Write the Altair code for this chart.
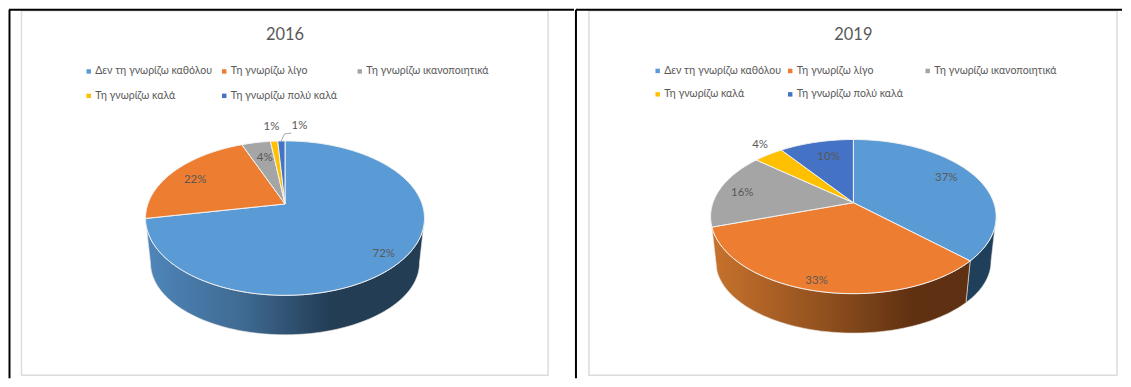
import math
import altair as alt
import pandas as pd

CATEGORIES = ["Δεν τη γνωρίζω καθόλου", "Τη γνωρίζω λίγο", "Τη γνωρίζω ικανοποιητικά",
              "Τη γνωρίζω καλά", "Τη γνωρίζω πολύ καλά"]
VALUES_2016 = [72, 22, 4, 1, 1]
VALUES_2019 = [37, 33, 16, 4, 10]
COLORS = ["#5b9bd5", "#ed7d31", "#a5a5a5", "#ffc000", "#4472c4"]

FONT = "Lato"
TEXT = "#595959"


def gradient(stops):
    return alt.LinearGradient(
        gradient="linear", x1=0, x2=1, y1=0, y2=0,
        stops=[alt.GradientStop(offset=o, color=c) for o, c in stops])


def panel(year, values, pano, frame, geo, label_pos, side_fill, legend_cols, legend_rows, leader=False):
    x0, x1 = pano
    sx = alt.Scale(domain=[x0, x1], nice=False, zero=False)
    sy = alt.Scale(domain=[8, 379], reverse=True, nice=False, zero=False)
    X = alt.X("x:Q", scale=sx, axis=None)
    Y = alt.Y("y:Q", scale=sy, axis=None)
    cx, apex_y, top_y, bot_y, rx, depth, shrink_x, shrink_y = geo

    # projective mapping of the pie disc, so the apex sits above the ellipse centre
    c = (top_y + bot_y - 2 * apex_y) / (bot_y - top_y)
    a = top_y * (1 + c) - apex_y
    d = rx * math.sqrt(1 - c * c)
    ell_cy = (top_y + bot_y) / 2

    def project(deg, r=1.0):
        t = math.radians(deg)
        u, v = r * math.sin(t), r * math.cos(t)
        w = 1 + c * v
        return cx + d * u / w, (apex_y + a * v) / w

    def lower(px, py):
        return cx + (px - cx) * shrink_x, ell_cy + depth + (py - ell_cy) * shrink_y

    def arc(a0, a1):
        n = max(2, int(abs(a1 - a0) / 1.5))
        return [a0 + (a1 - a0) * i / n for i in range(n + 1)]

    total = sum(values)
    starts, acc = [], 0
    for v in values:
        starts.append(acc * 360 / total)
        acc += v
    ends = starts[1:] + [360]

    layers = []
    # frame of the chart
    layers.append(alt.Chart(pd.DataFrame([{"x": frame[0], "x2": frame[1], "y": frame[2], "y2": frame[3]}]))
                  .mark_rect(fill="#ffffff", stroke="#dcdcdc", strokeWidth=1.5)
                  .encode(x=X, x2="x2:Q", y=Y, y2="y2:Q"))
    # sides
    tan_a = math.degrees(math.acos(-c))
    tan_b = 360 - tan_a
    for i in range(len(values)):
        a0, a1 = max(starts[i], tan_a), min(ends[i], tan_b)
        if a1 - a0 < 10:
            continue
        pts = [project(t) for t in arc(a0, a1)]
        pts = pts + [lower(*p) for p in reversed(pts)]
        pts.append(pts[0])
        df = pd.DataFrame([{"x": p[0], "y": p[1], "i": k} for k, p in enumerate(pts)])
        layers.append(alt.Chart(df).mark_line(fill=side_fill[i], strokeWidth=0.6, stroke="#e9e4df")
                      .encode(x=X, y=Y, order="i:Q"))
    # top faces
    for i in range(len(values)):
        pts = [(cx, apex_y)] + [project(t) for t in arc(starts[i], ends[i])] + [(cx, apex_y)]
        df = pd.DataFrame([{"x": p[0], "y": p[1], "i": k} for k, p in enumerate(pts)])
        layers.append(alt.Chart(df).mark_line(fill=COLORS[i], stroke="#f2f2f2", strokeWidth=1)
                      .encode(x=X, y=Y, order="i:Q"))
    # leader line of the last slice
    if leader:
        mid = (starts[4] + ends[4]) / 2
        ax, ay = project(mid, 1.0)
        bx, by = project(mid + 1.5, 1.13)
        df = pd.DataFrame([{"x": ax, "y": ay, "i": 0}, {"x": bx, "y": by, "i": 1},
                           {"x": bx + 7, "y": by - 1, "i": 2}])
        layers.append(alt.Chart(df).mark_line(stroke="#a6a6a6", strokeWidth=1)
                      .encode(x=X, y=Y, order="i:Q"))
    # percent labels
    rows = []
    for i, v in enumerate(values):
        r, off, yoff = label_pos[i]
        lx, ly = project((starts[i] + ends[i]) / 2, r)
        rows.append({"x": lx + off, "y": ly + yoff, "t": f"{v}%"})
    layers.append(alt.Chart(pd.DataFrame(rows))
                  .mark_text(font=FONT, fontSize=11.5, color=TEXT, align="center", baseline="middle")
                  .encode(x=X, y=Y, text="t:N"))
    # title
    layers.append(alt.Chart(pd.DataFrame([{"x": cx, "y": 34.5, "t": year}]))
                  .mark_text(font=FONT, fontSize=16.5, color=TEXT, align="center", baseline="middle")
                  .encode(x=X, y=Y, text="t:N"))
    # legend
    for i, cat in enumerate(CATEGORIES):
        mx = legend_cols[i % 3]
        my = legend_rows[i // 3]
        layers.append(alt.Chart(pd.DataFrame([{"x": mx, "y": my, "cat": cat}]))
                      .mark_square(size=20, color=COLORS[i], opacity=1)
                      .encode(x=X, y=Y))
        layers.append(alt.Chart(pd.DataFrame([{"x": mx + 6.5, "y": my, "cat": cat}]))
                      .mark_text(font=FONT, fontSize=10.6, color=TEXT, align="left", baseline="middle")
                      .encode(x=X, y=Y, text="cat:N"))
    # black cell lines
    rules = pd.DataFrame([{"x": x0, "x2": x1, "y": 9, "y2": 9}])
    layers.append(alt.Chart(rules).mark_rule(color="#000000", strokeWidth=2)
                  .encode(x=X, x2="x2:Q", y=Y))
    vx = x0 + 0.5 if x0 == 8 else x0
    layers.append(alt.Chart(pd.DataFrame([{"x": vx, "y": 9, "y2": 379}]))
                  .mark_rule(color="#000000", strokeWidth=2)
                  .encode(x=X, y=Y, y2="y2:Q"))
    return alt.layer(*layers).properties(width=x1 - x0, height=371)


left = panel(
    "2016", VALUES_2016, (8, 575), (20.5, 549, 10, 376),
    (285, 204, 140.7, 295.7, 140, 45, 0.964, 0.93),
    [(0.85, -1, 5), (0.8, 0, 3), (0.7, 1, -1), (1.29, 0, 1), (1.3, 19, 0)],
    [gradient([(0, "#4f86bb"), (0.35, "#3f6a92"), (0.66, "#233d55"), (1, "#233d55")]), None, None, None, None],
    (88, 224, 360), (71, 95.5), leader=True)

right = panel(
    "2019", VALUES_2019, (575, 1123), (588, 1118, 10, 376),
    (853.4, 202.7, 139.3, 294, 143.3, 45, 0.964, 0.93),
    [(0.76, 0, -3), (0.88, -5, 3), (0.82, -1, 1), (1.25, 10, 1), (0.69, 2, -2)],
    ["#1f3f5a", gradient([(0, "#c8722c"), (0.45, "#8f4f1e"), (0.78, "#5f3011"), (1, "#5f3011")]), None, None, None],
    (657, 790, 928), (70.5, 94))

chart = alt.hconcat(left, right, spacing=0).properties(padding=0).configure_view(stroke=None)

chart.save("out.html", embed_options={"renderer": "svg", "actions": False})
